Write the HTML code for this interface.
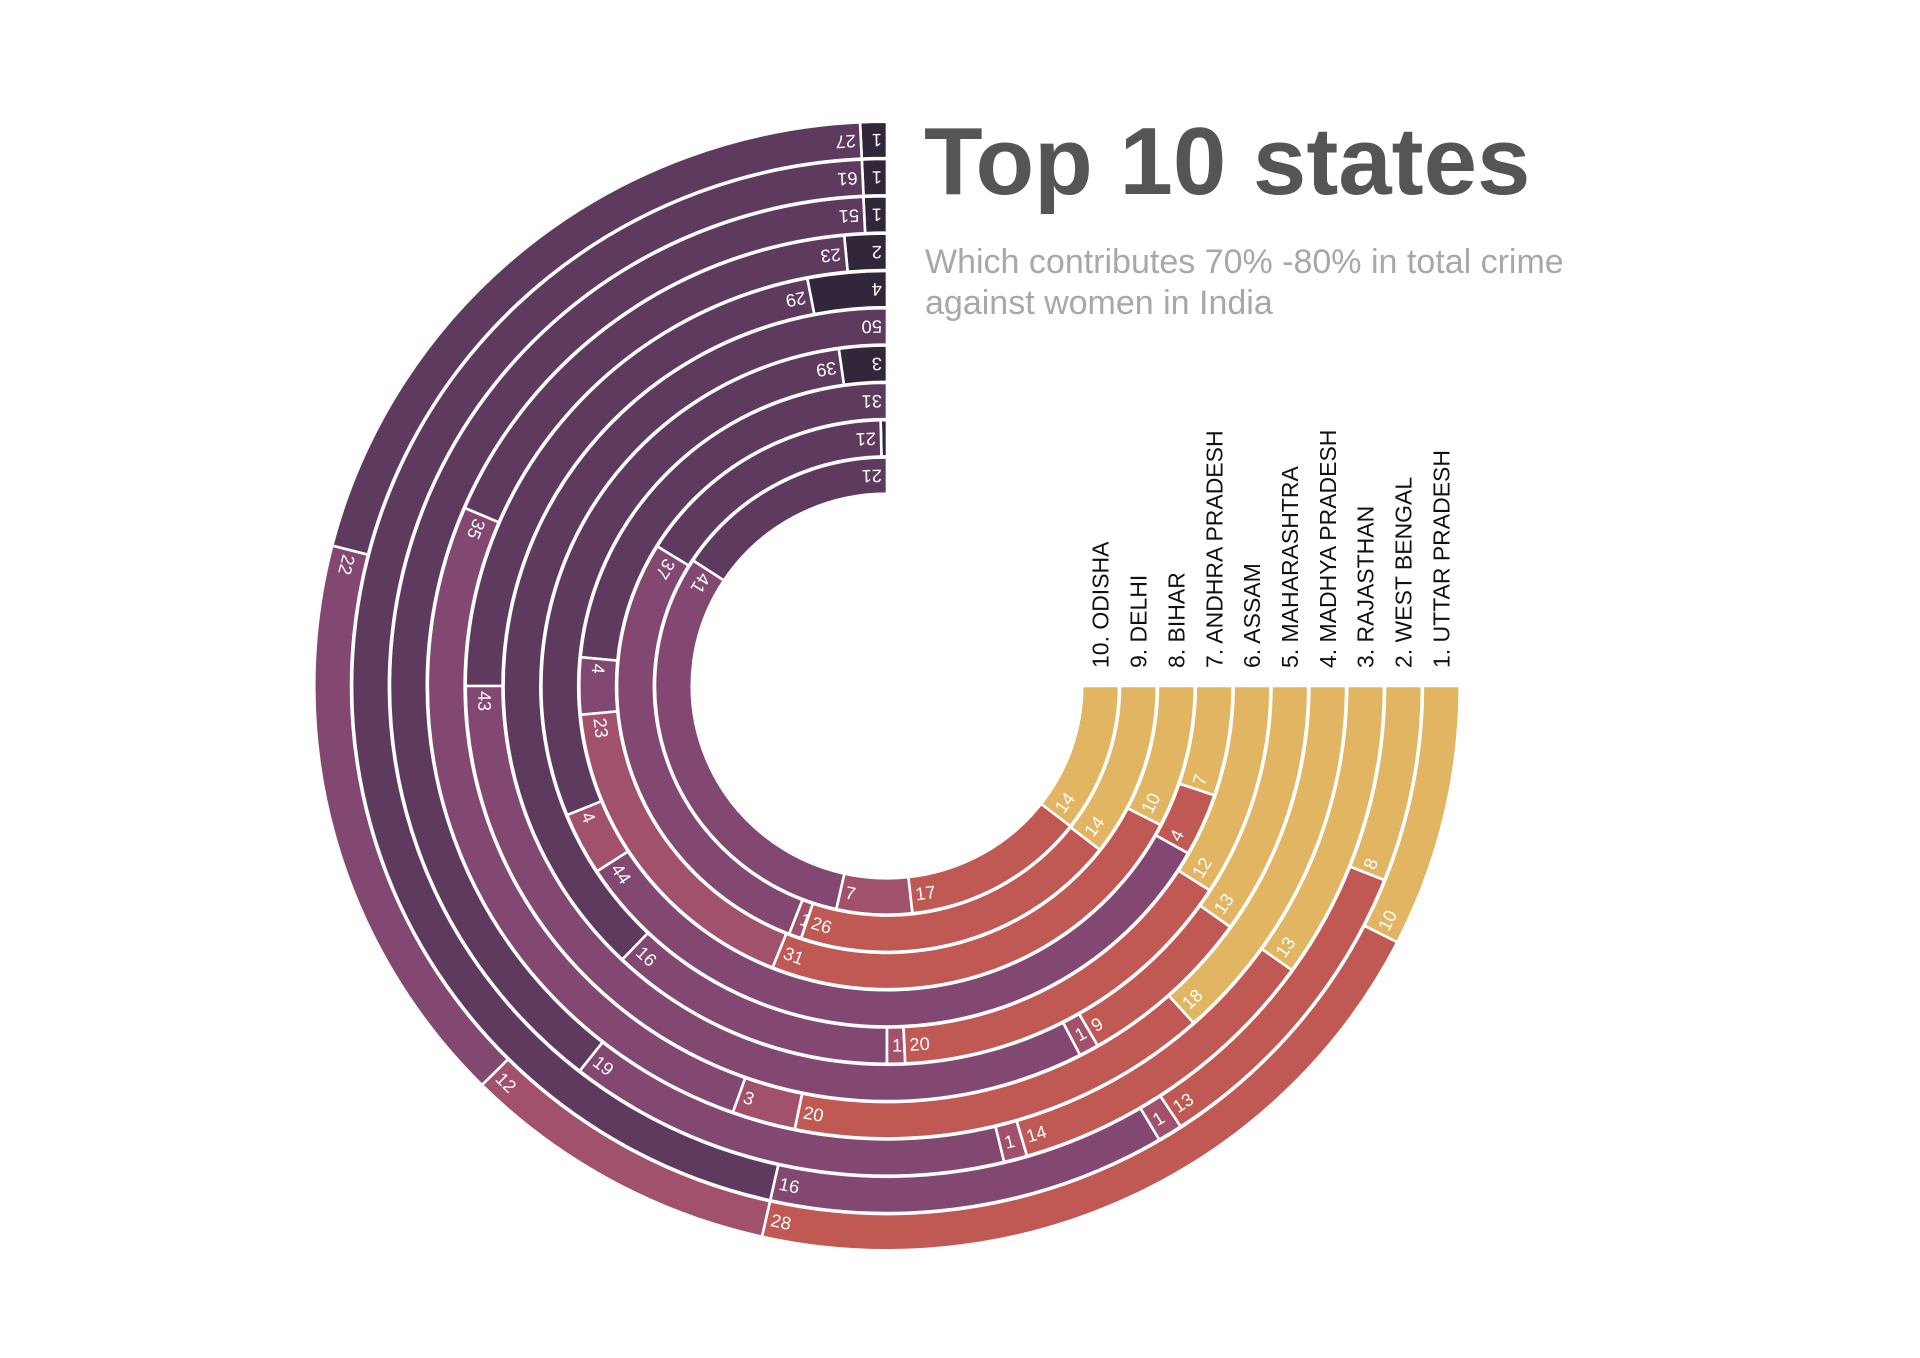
<!DOCTYPE html>
<html><head><meta charset="utf-8"><style>
html,body{margin:0;padding:0;background:#fff;}
svg{display:block;}
</style></head><body>
<svg id="chart" width="1920" height="1358" viewBox="0 0 1920 1358" xmlns="http://www.w3.org/2000/svg">
<text x="924" y="194" font-family="Liberation Sans, sans-serif" font-weight="bold" font-size="96" fill="#555555">Top 10 states</text>
<text font-family="Liberation Sans, sans-serif" font-size="34" fill="#a8a8a8"><tspan x="925" y="273">Which contributes 70% -80% in total crime</tspan><tspan x="925" y="314">against women in India</tspan></text>
<g id="rings" transform="translate(887,0) scale(1.015,1) translate(-887,0)"></g>
</svg>
<script>
const states = ["1. UTTAR PRADESH","2. WEST BENGAL","3. RAJASTHAN","4. MADHYA PRADESH","5. MAHARASHTRA","6. ASSAM","7. ANDHRA PRADESH","8. BIHAR","9. DELHI","10. ODISHA"];
const ringValues = [
  [1,27,22,12,28,10],
  [1,61,16,1,13,8],
  [1,51,19,1,14,13],
  [2,23,35,3,20,18],
  [4,29,43,1,9,13],
  [50,16,1,20,12],
  [3,39,4,44,4,7],
  [31,4,23,31,10],
  [0.5,21,37,1,26,14],
  [21,41,7,17,14]
];
const ringCategories = [
  [0,1,2,3,4,5],
  [0,1,2,3,4,5],
  [0,1,2,3,4,5],
  [0,1,2,3,4,5],
  [0,1,2,3,4,5],
  [1,2,3,4,5],
  [0,1,3,2,4,5],
  [1,2,3,4,5],
  [0,1,2,3,4,5],
  [1,2,3,4,5]
];
const palette = ["#32263a","#5e3a5e","#834872","#a2516d","#c05853","#e2b562"];

const NS = "http://www.w3.org/2000/svg";
const cx = 887, cy = 686, outerR = 563, pitch = 37.3, bandW = 36.3, sweep = 270;
const g = document.getElementById("rings");
function pt(phi, r){ const a = phi*Math.PI/180; return [cx - r*Math.sin(a), cy - r*Math.cos(a)]; }
function angleScale(v, total){ return v/total*sweep; }

states.forEach((name, i) => {
  const rOut = outerR - i*pitch + 1.3;
  const rIn = rOut - bandW;
  const rMid = (rOut + rIn)/2;
  const vals = ringValues[i];
  const total = vals.reduce((a,b)=>a+b,0);
  let phi = 0;
  vals.forEach((v, j) => {
    const d = angleScale(v, total);
    const p0 = phi, p1 = phi + d;
    const large = d > 180 ? 1 : 0;
    const a = pt(p0, rOut), b = pt(p1, rOut), c = pt(p1, rIn), e = pt(p0, rIn);
    const path = document.createElementNS(NS, "path");
    path.setAttribute("d", `M${a[0]},${a[1]} A${rOut},${rOut} 0 ${large} 0 ${b[0]},${b[1]} L${c[0]},${c[1]} A${rIn},${rIn} 0 ${large} 1 ${e[0]},${e[1]} Z`);
    path.setAttribute("fill", palette[ringCategories[i][j]]);
    path.setAttribute("stroke", "#ffffff");
    path.setAttribute("stroke-width", "2.6");
    
    
    g.appendChild(path);
    if (v >= 1) {
      const la = p0 + (5/rMid)*180/Math.PI;
      const lp = pt(la, rMid);
      const t = document.createElementNS(NS, "text");
      t.setAttribute("x", 0); t.setAttribute("y", 0);
      t.setAttribute("transform", `translate(${lp[0]},${lp[1]}) rotate(${180-la})`);
      t.setAttribute("font-family", "Liberation Sans, sans-serif");
      t.setAttribute("font-size", "18");
      t.setAttribute("fill", "#ffffff");
      t.setAttribute("dominant-baseline", "central");
      t.textContent = v;
      
      
      g.appendChild(t);
    }
    phi = p1;
  });
  const lt = document.createElementNS(NS, "text");
  lt.setAttribute("transform", `translate(${cx + rMid + 8},${cy - 18}) rotate(-90)`);
  lt.setAttribute("font-family", "Liberation Sans, sans-serif");
  lt.setAttribute("font-size", "23");
  lt.setAttribute("fill", "#111111");
  lt.textContent = name;
  
  
  g.appendChild(lt);
});
</script>
</body></html>
